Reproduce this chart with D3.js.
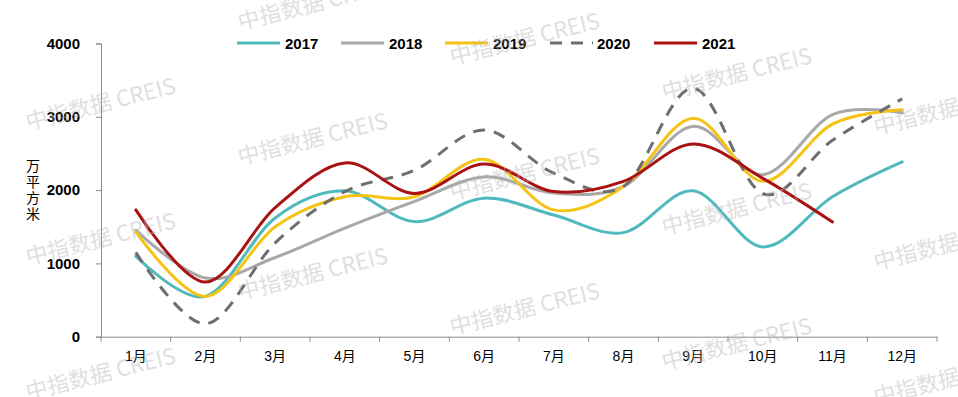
<!DOCTYPE html>
<html>
<head>
<meta charset="utf-8">
<script src="https://cdn.jsdelivr.net/npm/d3@7"></script>
<style>
  body { margin: 0; background: #fff; }
  svg { display: block; }
</style>
</head>
<body>
<svg id="chart" width="958" height="397"></svg>
<script>
// months on the x axis
const months = ["1月", "2月", "3月", "4月", "5月", "6月", "7月", "8月", "9月", "10月", "11月", "12月"];
// y ticks, 万平方米
const yTicks = [0, 1000, 2000, 3000, 4000];

// one array per year
const y2017 = [1100, 550, 1620, 1990, 1570, 1890, 1660, 1420, 1990, 1225, 1910, 2385];
const y2018 = [1450, 800, 1080, 1480, 1845, 2180, 1960, 2050, 2870, 2210, 3030, 3055];
const y2019 = [1430, 550, 1500, 1910, 1910, 2420, 1730, 2050, 2980, 2120, 2900, 3095];
const y2020 = [1150, 175, 1280, 1980, 2270, 2820, 2230, 2050, 3390, 1950, 2680, 3245];
const y2021 = [1730, 745, 1760, 2370, 1955, 2355, 1980, 2120, 2630, 2160, 1565];

const series = [
  { name: "2017", values: y2017, color: "#4fb9bd", dash: null },
  { name: "2018", values: y2018, color: "#a8a8a8", dash: null },
  { name: "2019", values: y2019, color: "#f4c314", dash: null },
  { name: "2020", values: y2020, color: "#6e6e6e", dash: "12,9" },
  { name: "2021", values: y2021, color: "#aa1212", dash: null }
];

const svg = d3.select("#chart");
const axisColor = "#8c8c8c";

const x = d3.scaleBand().domain(months).range([101, 937]).padding(0);
const y = d3.scaleLinear().domain([0, 4000]).range([336.7, 43.5]);

// y axis
const yAxis = svg.append("g")
    .attr("transform", "translate(101,0)")
    .call(d3.axisLeft(y).tickValues(yTicks).tickFormat(d3.format("d")).tickSize(5).tickPadding(16));
yAxis.select(".domain").attr("stroke", axisColor);
yAxis.selectAll(".tick line").attr("stroke", axisColor);
yAxis.selectAll(".tick text")
    .attr("font-family", "Liberation Sans, Arial, sans-serif")
    .attr("font-size", 15)
    .attr("font-weight", "bold")
    .attr("fill", "#000");

// x axis: labels in band centres, ticks on band edges
const xAxis = svg.append("g")
    .attr("transform", `translate(0,${y(0)})`)
    .call(d3.axisBottom(x).tickSize(0).tickPadding(14).tickSizeOuter(0));
xAxis.select(".domain").attr("stroke", axisColor);
xAxis.selectAll(".tick text")
    .attr("font-family", "Liberation Sans, Arial, 'Noto Sans CJK SC', sans-serif")
    .attr("font-size", 14)
    .attr("fill", "#000");

const edges = months.map(m => x(m)).concat([x.range()[1]]);
xAxis.selectAll(".edge")
    .data(edges)
    .join("line")
    .attr("class", "edge")
    .attr("x1", d => d).attr("x2", d => d)
    .attr("y1", 0).attr("y2", 5)
    .attr("stroke", axisColor);

// y title, written top to bottom as one text
svg.append("text")
    .attr("x", 33)
    .attr("y", 159)
    .attr("writing-mode", "vertical-rl")
    .style("text-orientation", "upright")
    .attr("letter-spacing", 2)
    .attr("font-family", "'Noto Sans CJK SC', sans-serif")
    .attr("font-size", 14)
    .attr("fill", "#000")
    .text("万平方米");

// lines
const line = d3.line()
    .x((d, i) => x(months[i]) + x.bandwidth() / 2)
    .y(d => y(d))
    .curve(d3.curveCardinal.tension(0));

svg.append("g")
    .selectAll("path")
    .data(series)
    .join("path")
    .attr("fill", "none")
    .attr("stroke", d => d.color)
    .attr("stroke-width", 3)
    .attr("stroke-dasharray", d => d.dash)
    .attr("stroke-linecap", d => d.dash ? "butt" : "round")
    .attr("d", d => line(d.values));

// legend
const legendX = [237, 341, 445, 550, 654];
const legend = svg.append("g")
    .selectAll("g")
    .data(series)
    .join("g")
    .attr("transform", (d, i) => `translate(${legendX[i]},43)`);
legend.append("line")
    .attr("x1", 0).attr("x2", 43)
    .attr("stroke", d => d.color)
    .attr("stroke-width", 3)
    .attr("stroke-dasharray", d => d.dash);
legend.append("text")
    .attr("x", (d, i) => i == 3 ? 47 : 48)
    .attr("y", 6)
    .attr("font-family", "Liberation Sans, Arial, sans-serif")
    .attr("font-size", 15)
    .attr("font-weight", "bold")
    .attr("fill", "#000")
    .text(d => d.name);

// watermark grid
const marks = [];
for (let c = 0; c < 5; c++) {
  for (let r = 0; r < 4; r++) {
    const wy = -5 + c * 35 + r * 135;
    if (wy > 20 && wy < 420) marks.push({ x: 28 + c * 212, y: wy });
  }
}
svg.append("g")
    .attr("pointer-events", "none")
    .selectAll("text")
    .data(marks)
    .join("text")
    .attr("transform", d => `translate(${d.x},${d.y}) rotate(-14)`)
    .attr("font-family", "'Noto Sans CJK SC', sans-serif")
    .attr("font-size", 22)
    .attr("fill", "#b4b4b4")
    .attr("opacity", 0.42)
    .text("中指数据 CREIS");
</script>
</body>
</html>
